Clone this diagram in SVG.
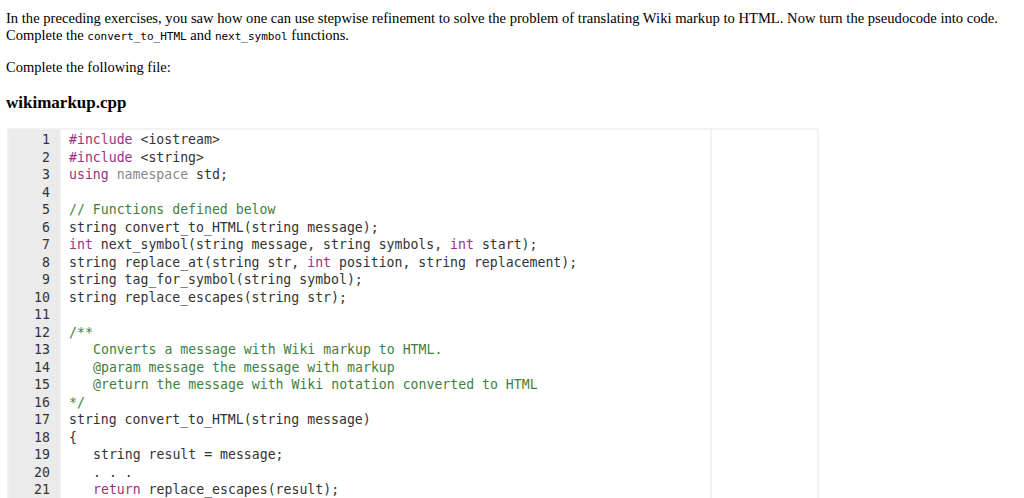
<svg xmlns="http://www.w3.org/2000/svg" width="1024" height="498" viewBox="0 0 1024 498">
<style>
.s{font-family:"Liberation Serif",serif;font-size:14.5px;fill:#000}
.m{font-family:"DejaVu Sans Mono","Liberation Mono",monospace;font-size:11px}
.c{font-family:"DejaVu Sans Mono","Liberation Mono",monospace;font-size:13.2px;fill:#333}
.n{font-family:"DejaVu Sans Mono","Liberation Mono",monospace;font-size:13.2px;fill:#333;text-anchor:end}
.k{fill:#a0307f}.g{fill:#888}.cm{fill:#3f7f3f}
</style>
<rect width="1024" height="498" fill="#fff"/>
<g id="intro">
<text class="s" x="6" y="23" textLength="992" lengthAdjust="spacingAndGlyphs">In the preceding exercises, you saw how one can use stepwise refinement to solve the problem of translating Wiki markup to HTML. Now turn the pseudocode into code.</text>
<text class="s" x="6" y="40">Complete the <tspan class="m">convert_to_HTML</tspan> and <tspan class="m">next_symbol</tspan> functions.</text>
<text class="s" x="6" y="72">Complete the following file:</text>
<text class="s" x="6" y="108" style="font-size:17px;font-weight:bold">wikimarkup.cpp</text>
</g>
<g id="editor">
<rect x="8" y="129" width="810" height="380" fill="#fff" stroke="#e6e6e6"/>
<rect x="8.5" y="129.5" width="52" height="380" fill="#ebebeb"/>
<line x1="711" y1="129" x2="711" y2="498" stroke="#e6e6e6"/>
</g>
<g id="numbers">
<text class="n" x="50" y="144">1</text><text class="n" x="50" y="161.5">2</text><text class="n" x="50" y="179">3</text><text class="n" x="50" y="196.5">4</text><text class="n" x="50" y="214">5</text><text class="n" x="50" y="231.5">6</text><text class="n" x="50" y="249">7</text><text class="n" x="50" y="266.5">8</text><text class="n" x="50" y="284">9</text><text class="n" x="50" y="301.5">10</text><text class="n" x="50" y="319">11</text><text class="n" x="50" y="336.5">12</text><text class="n" x="50" y="354">13</text><text class="n" x="50" y="371.5">14</text><text class="n" x="50" y="389">15</text><text class="n" x="50" y="406.5">16</text><text class="n" x="50" y="424">17</text><text class="n" x="50" y="441.5">18</text><text class="n" x="50" y="459">19</text><text class="n" x="50" y="476.5">20</text><text class="n" x="50" y="494">21</text>
</g>
<g id="code">
<text class="c" x="69" y="144"><tspan class="k">#include</tspan> &lt;iostream&gt;</text>
<text class="c" x="69" y="161.5"><tspan class="k">#include</tspan> &lt;string&gt;</text>
<text class="c" x="69" y="179"><tspan class="k">using</tspan> <tspan class="g">namespace</tspan> std;</text>
<text class="c cm" x="69" y="214">// Functions defined below</text>
<text class="c" x="69" y="231.5">string convert_to_HTML(string message);</text>
<text class="c" x="69" y="249"><tspan class="k">int</tspan> next_symbol(string message, string symbols, <tspan class="k">int</tspan> start);</text>
<text class="c" x="69" y="266.5">string replace_at(string str, <tspan class="k">int</tspan> position, string replacement);</text>
<text class="c" x="69" y="284">string tag_for_symbol(string symbol);</text>
<text class="c" x="69" y="301.5">string replace_escapes(string str);</text>
<text class="c cm" x="69" y="336.5">/**</text>
<text class="c cm" x="93" y="354">Converts a message with Wiki markup to HTML.</text>
<text class="c cm" x="93" y="371.5">@param message the message with markup</text>
<text class="c cm" x="93" y="389">@return the message with Wiki notation converted to HTML</text>
<text class="c cm" x="69" y="406.5">*/</text>
<text class="c" x="69" y="424">string convert_to_HTML(string message)</text>
<text class="c" x="69" y="441.5">{</text>
<text class="c" x="93" y="459">string result = message;</text>
<text class="c" x="93" y="476.5">. . .</text>
<text class="c" x="93" y="494"><tspan class="k">return</tspan> replace_escapes(result);</text>
</g>
</svg>
